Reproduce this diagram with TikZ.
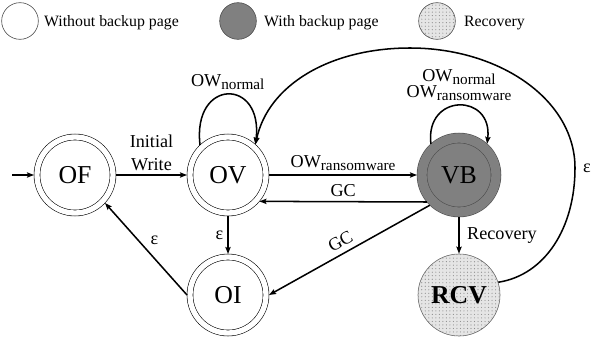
\documentclass[tikz,border=0pt]{standalone}
\usepackage{fontspec}
\setmainfont{Liberation Serif}
\usetikzlibrary{arrows.meta,patterns}

\definecolor{backupgray}{RGB}{128,128,128}
\newcommand{\statefont}{\fontsize{22}{24}\selectfont}
\newcommand{\edgefont}{\fontsize{15.5}{19}\selectfont}
\newcommand{\legendfont}{\fontsize{13.5}{15}\selectfont}
\newcommand{\subtext}[1]{\raisebox{-0.35ex}{\fontsize{13}{13}\selectfont #1}}

\begin{document}
\begin{tikzpicture}[x=0.03cm, y=-0.03cm, >={Stealth[length=6pt,width=4.5pt,inset=1pt]},
    every node/.style={font=\edgefont},
    trans/.style={->, line width=1.3pt},
    plainstate/.style={circle, draw, line width=0.5pt, fill=white, double, double distance=0.16cm,
        minimum size=2.28cm, inner sep=0pt, outer sep=0.09cm, font=\statefont},
    backupstate/.style={circle, draw=black!70, line width=0.5pt, fill=backupgray, double=backupgray,
        double distance=0.28cm, minimum size=2.22cm, inner sep=0pt, outer sep=0.15cm, font=\statefont},
    recfill/.style={fill=black!10, postaction={pattern=dots, pattern color=black!45}},
    recstate/.style={circle, draw=black!60, line width=0.5pt, recfill,
        minimum size=2.46cm, inner sep=0pt, font=\statefont},
    legcirc/.style={circle, draw=black!70, line width=0.5pt, fill=white, minimum size=1.1cm, inner sep=0pt},
    legtext/.style={anchor=base west, font=\legendfont}]
    \useasboundingbox (0,0) rectangle (599,339);

    % Leyenda
    \node[legcirc] (legplain) at (20,21) {};
    \node[legtext] (legplaintxt) at (40,27) {Without backup page};
    \node[legcirc, fill=backupgray] (legbackup) at (238,21) {};
    \node[legtext] (legbackuptxt) at (260,27) {With backup page};
    \node[legcirc, recfill] (legrec) at (437,21) {};
    \node[legtext] (legrectxt) at (460,27) {Recovery};

    % Estados
    \node[plainstate] (OF) at (75,175) {OF};
    \node[plainstate] (OV) at (228,175) {OV};
    \node[backupstate] (VB) at (459,175) {VB};
    \node[plainstate] (OI) at (228,295) {OI};
    \node[recstate] (RCV) at (459,295) {\textbf{RCV}};

    % Transiciones
    \coordinate (start) at (12,175);
    \draw[trans] (start) -- (OF);
    \draw[trans] (OF) -- node[above, align=center] {Initial\\Write} (OV);
    \draw[trans] (OV) -- node[above] {OW\subtext{ransomware}} (VB);
    \draw[trans] (VB.220) -- node[above] {GC} (OV.-40);
    \draw[trans] (VB.226) -- node[above=1pt, sloped, pos=0.52] {GC} (OI.east);
    \draw[trans] (OV) -- node[left] {ε} (OI);
    \draw[trans] (OI.west) -- node[above right] {ε} (OF.-43);
    \draw[trans] (VB) -- node[right=3pt] {Recovery} (RCV);

    % Lazos
    \draw[trans] (OV.133) .. controls +(-8,-67) and +(8,-67) .. node[above] {OW\subtext{normal}} (OV.48);
    \draw[trans] (VB.132) .. controls +(-6,-51) and +(6,-51) ..
        node[above, align=center] {OW\subtext{normal}\\[-5pt]OW\subtext{ransomware}} (VB.48);

    % Vuelta de la recuperacion
    \coordinate (epsE) at (575,168);
    \coordinate (epsN) at (410,48);
    \draw[trans] (RCV.18) .. controls (545,275) and (575,228) .. (epsE) node[right=3pt] {ε}
        .. controls (575,100) and (500,48) .. (epsN)
        .. controls (330,48) and (268,85) .. (OV.48);
\end{tikzpicture}
\end{document}
